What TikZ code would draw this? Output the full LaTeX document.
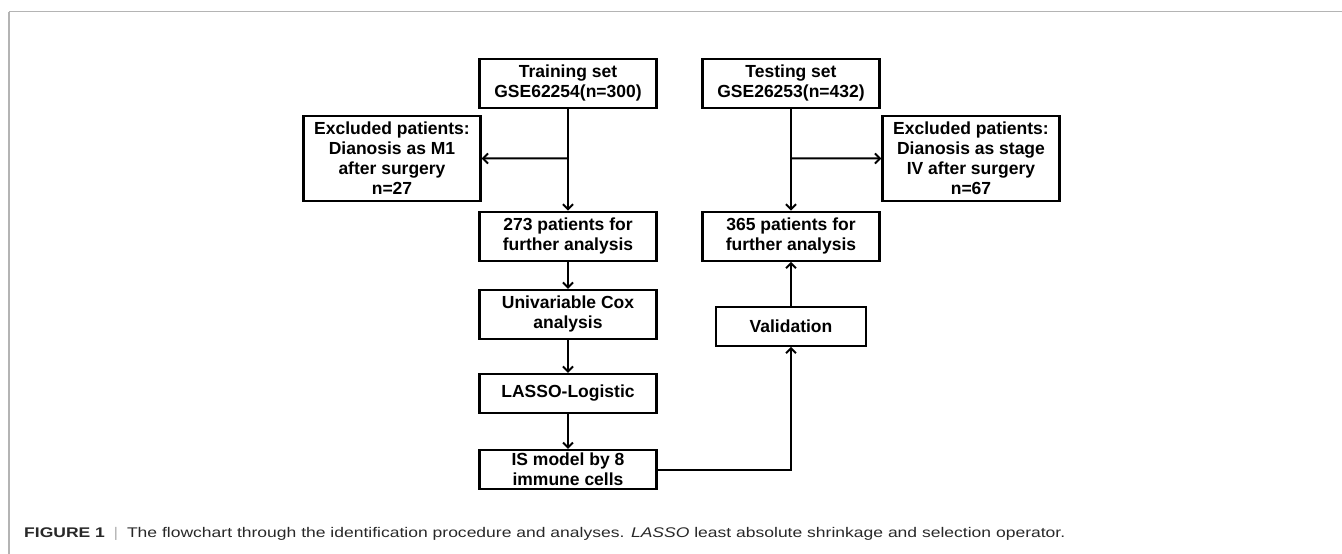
\documentclass[tikz,border=0pt]{standalone}
\usepackage{fontspec}
\setmainfont{Liberation Sans}
\usetikzlibrary{arrows.meta}
\definecolor{framegray}{RGB}{180,180,180}
\definecolor{captxt}{RGB}{40,40,40}
\tikzset{
  box/.style={draw=black, line width=2.2pt, align=center, inner sep=0pt,
    minimum width=177pt, font=\fontsize{17.5}{20}\selectfont\bfseries},
  arr/.style={line width=2pt, -{Straight Barb[length=5pt,width=10pt,line width=2pt]}},
  ln/.style={line width=2pt},
}
\begin{document}
\begin{tikzpicture}[x=1pt,y=-1pt]
\useasboundingbox (0,0) rectangle (1342,554);
% frame
\draw[framegray, line width=1.4pt] (9,11.5) -- (1342,11.5);
\draw[framegray, line width=1.4pt] (9,11.5) -- (9,554);
% boxes
\node[box, minimum height=49pt] (train) at (568,83.4) {Training set\\GSE62254(n=300)};
\node[box, minimum height=49pt] (test) at (791,83.4) {Testing set\\GSE26253(n=432)};
\node[box, minimum height=85pt] (exl) at (392,158.5) {Excluded patients:\\Dianosis as M1\\after surgery\\n=27};
\node[box, minimum height=85pt] (exr) at (971,158.5) {Excluded patients:\\Dianosis as stage\\IV after surgery\\n=67};
\node[box, minimum height=49pt] (p273) at (568,236.2) {273 patients for\\further analysis};
\node[box, minimum height=49pt] (p365) at (791,236.2) {365 patients for\\further analysis};
\node[box, minimum height=48.7pt] (univ) at (568,314.3) {Univariable Cox\\analysis};
\node[box, minimum height=38.7pt] (lasso) at (568,393.3) {LASSO-Logistic};
\node[box, minimum height=39.3pt] (ism) at (568,469.7) {IS model by 8\\immune cells};
\node[box, minimum height=39pt, minimum width=150pt] (valid) at (791,326.2) {Validation};
% connectors
\coordinate (bl) at (568,158.3);
\coordinate (br) at (791,158.3);
\draw[arr] (train.south) -- (p273.north);
\draw[arr] (bl) -- (exl.east);
\draw[arr] (test.south) -- (p365.north);
\draw[arr] (br) -- (exr.west);
\draw[arr] (p273.south) -- (univ.north);
\draw[arr] (univ.south) -- (lasso.north);
\draw[arr] (lasso.south) -- (ism.north);
\draw[arr] (ism.east) -| (valid.south);
\draw[arr] (valid.north) -- (p365.south);
% caption
\node[anchor=base west, inner sep=0pt, text=captxt, font=\fontsize{14}{16}\selectfont] (cap) at (24,537.5)
  {\resizebox{1041pt}{\height}{\textbf{FIGURE 1}\enspace\textcolor{framegray}{|}\enspace The flowchart through the identification procedure and analyses. \textit{LASSO} least absolute shrinkage and selection operator.}};
\end{tikzpicture}
\end{document}
